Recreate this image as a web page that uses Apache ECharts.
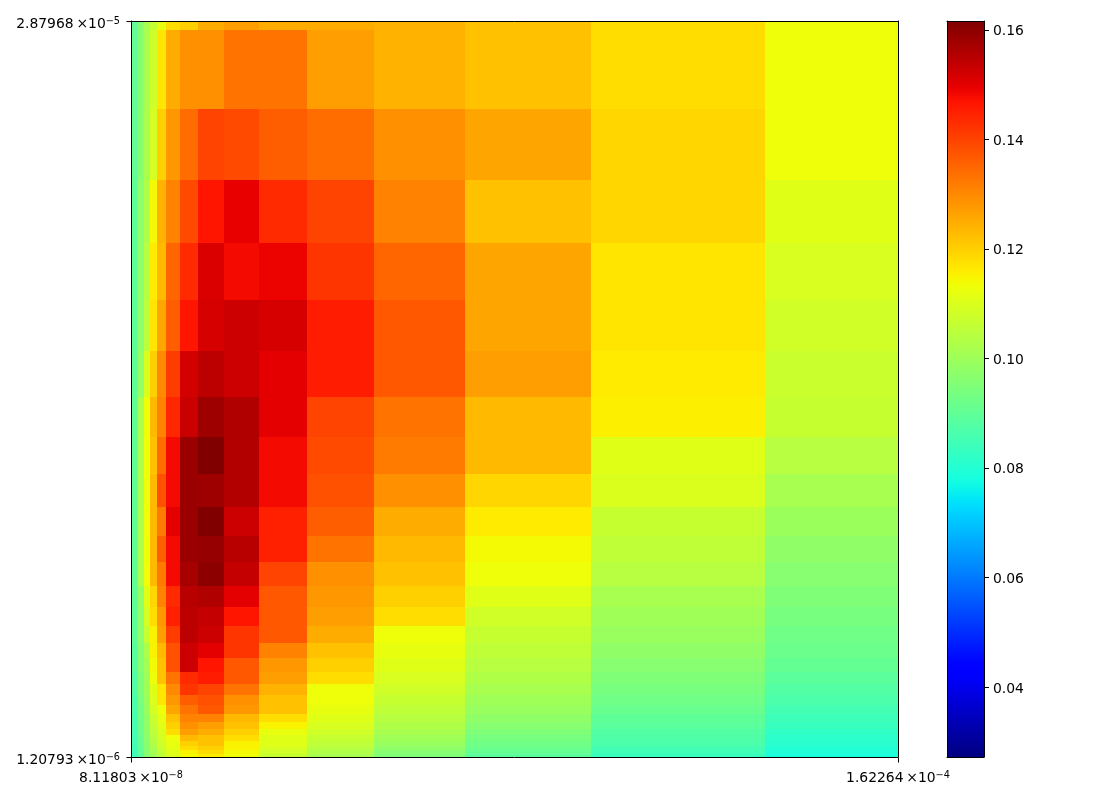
<!DOCTYPE html>
<html>
<head>
<meta charset="utf-8">
<title>heatmap</title>
<script src="https://cdn.jsdelivr.net/npm/echarts@6/dist/echarts.min.js"></script>
<style>
html,body{margin:0;padding:0;background:#fff;}
#main{width:1105px;height:797px;}
</style>
</head>
<body>
<div id="main"></div>
<script>
var xEdges = [8.11803e-8,8.70e-8,9.235e-8,9.80e-8,1.0504e-7,1.1484e-7,1.319e-7,1.577e-7,2.040e-7,2.886e-7,4.644e-7,9.02e-7,2.222e-6,7.745e-6,4.344e-5,1.62264e-4];
// bottom to top
var yEdges = [1.20793e-6,1.2235e-6,1.2449e-6,1.2665e-6,1.2940e-6,1.3280e-6,1.3628e-6,1.4045e-6,1.4537e-6,1.5112e-6,1.5778e-6,1.6544e-6,1.7423e-6,1.8505e-6,1.9741e-6,2.1244e-6,2.3055e-6,2.5238e-6,2.7990e-6,3.1305e-6,3.5471e-6,4.0890e-6,4.7958e-6,5.6978e-6,6.9465e-6,8.6541e-6,1.1063e-5,1.4513e-5,1.9708e-5,2.7702e-5,2.87968e-5];
// one row per y band, top row first
var gridValues = [
	[.090,.096,.1017,.1067,.112,.118,.120,.125,.127,.125,.125,.124,.122,.118,.113],
	[.090,.096,.1017,.108,.117,.125,.129,.129,.133,.133,.127,.124,.122,.118,.113],
	[.090,.096,.102,.109,.120,.128,.134,.140,.139,.136,.134,.129,.126,.119,.113],
	[.090,.097,.103,.114,.124,.131,.139,.1465,.1495,.1435,.140,.131,.122,.119,.1108],
	[.090,.097,.104,.116,.123,.135,.1435,.151,.148,.149,.142,.135,.126,.117,.1096],
	[.090,.097,.105,.117,.126,.136,.1465,.1515,.1527,.1515,.1455,.137,.126,.117,.1082],
	[.090,.098,.110,.120,.130,.141,.152,.1545,.1527,.150,.1455,.137,.127,.116,.1071],
	[.090,.102,.113,.123,.131,.144,.153,.158,.156,.150,.140,.133,.123,.1155,.1067],
	[.090,.102,.113,.122,.134,.148,.1586,.1616,.1557,.148,.139,.132,.123,.1108,.1042],
	[.090,.102,.113,.123,.138,.148,.1586,.158,.1557,.148,.138,.129,.119,.1101,.1017],
	[.090,.102,.113,.123,.132,.150,.1586,.1616,.1527,.145,.136,.125,.116,.1067,.0996],
	[.090,.102,.113,.123,.136,.148,.1586,.159,.155,.145,.133,.123,.114,.1054,.0977],
	[.090,.102,.113,.123,.132,.148,.157,.160,.1535,.140,.129,.122,.113,.1042,.0963],
	[.090,.098,.111,.119,.131,.1435,.155,.156,.150,.137,.128,.120,.1108,.1017,.095],
	[.090,.097,.109,.118,.128,.145,.1545,.1535,.1465,.137,.127,.118,.1082,.1004,.0938],
	[.090,.097,.107,.115,.127,.141,.1545,.1527,.142,.137,.125,.113,.1067,.0992,.0925],
	[.089,.096,.1025,.115,.123,.138,.1527,.150,.142,.131,.122,.112,.1054,.0977,.0917],
	[.089,.096,.101,.114,.122,.138,.1527,.1465,.137,.128,.120,.1108,.1042,.0963,.0905],
	[.088,.095,.100,.113,.122,.133,.1435,.1455,.137,.127,.118,.1096,.1029,.095,.0892],
	[.088,.095,.100,.111,.117,.130,.142,.140,.133,.124,.113,.1082,.1017,.0938,.0879],
	[.087,.094,.0995,.110,.117,.128,.136,.138,.129,.122,.113,.1067,.1004,.0925,.0867],
	[.087,.093,.099,.109,.113,.126,.133,.137,.128,.122,.112,.1054,.0992,.0913,.0854],
	[.086,.093,.098,.107,.112,.122,.131,.131,.123,.118,.1108,.1042,.0977,.0898,.0842],
	[.086,.092,.098,.106,.111,.120,.129,.127,.122,.115,.1096,.1029,.0963,.0892,.0834],
	[.0855,.092,.0975,.105,.110,.118,.127,.125,.120,.112,.1082,.1017,.095,.0879,.0821],
	[.085,.091,.097,.104,.109,.113,.123,.122,.118,.1108,.1067,.1004,.0938,.0871,.0813],
	[.085,.091,.0965,.103,.108,.112,.120,.122,.115,.1108,.1054,.0992,.0925,.0867,.0809],
	[.0845,.090,.096,.102,.107,.1115,.118,.120,.115,.1096,.1042,.0977,.0917,.0854,.080],
	[.0845,.090,.096,.101,.106,.111,.115,.118,.114,.1082,.1029,.0963,.0905,.0846,.0794],
	[.084,.0895,.0955,.1004,.105,.110,.114,.116,.113,.1067,.1017,.095,.0892,.0834,.0788]
];
var colorMin = 0.0272;
var colorMax = 0.1616;
var colorTicks = [0.04,0.06,0.08,0.10,0.12,0.14,0.16];
var xLabelValues = [8.11803e-8,1.62264e-4];
var yLabelValues = [1.20793e-6,2.87968e-5];
var xLabelTexts = ['8.11803\u2009×10','1.62264\u2009×10'];
var xLabelPowers = ['−8','−4'];
var yLabelTexts = ['1.20793\u2009×10','2.87968\u2009×10'];
var yLabelPowers = ['−6','−5'];

var fontName = 'DejaVu Sans';
var tickLength = 5;

function seg(points, t){
	for(var i = 1; i < points.length; i++){
		if(t <= points[i][0]){
			var a = points[i-1], b = points[i];
			return a[1] + (b[1]-a[1])*(t-a[0])/(b[0]-a[0]);
		}
	}
	return points[points.length-1][1];
}
function jet(t){
	var r = seg([[0,0],[.35,0],[.66,1],[.89,1],[1,.5]], t);
	var g = seg([[0,0],[.125,0],[.375,1],[.64,1],[.91,0],[1,0]], t);
	var b = seg([[0,.5],[.11,1],[.34,1],[.65,0],[1,0]], t);
	return 'rgb('+Math.round(r*255)+','+Math.round(g*255)+','+Math.round(b*255)+')';
}
var jetColors = [], jetStops = [];
for(var i = 0; i <= 100; i++){
	jetColors.push(jet(i/100));
	jetStops.push({offset:i/100, color:jet(i/100)});
}

var cells = [];
gridValues.forEach(function(row, r){
	var yi = gridValues.length - 1 - r;
	row.forEach(function(v, c){
		cells.push([xEdges[c], xEdges[c+1], yEdges[yi], yEdges[yi+1], v]);
	});
});

// end ticks of the log axes: [x, y, 0] hangs below the x axis, [x, y, 1] sticks out left of the y axis
var endTicks = [];
xLabelValues.forEach(function(x){ endTicks.push([x, yLabelValues[0], 0]); });
yLabelValues.forEach(function(y){ endTicks.push([xLabelValues[0], y, 1]); });

function renderCell(params, api){
	var p0 = api.coord([api.value(0), api.value(3)]);
	var p1 = api.coord([api.value(1), api.value(2)]);
	var x0 = Math.round(p0[0]), y0 = Math.round(p0[1]);
	return {
		type:'rect',
		shape:{x:x0, y:y0, width:Math.round(p1[0])-x0, height:Math.round(p1[1])-y0},
		style:{fill:api.visual('color')}
	};
}
function renderBar(params, api){
	var p0 = api.coord([0, api.value(1)]);
	var p1 = api.coord([1, api.value(0)]);
	return {
		type:'rect',
		shape:{x:p0[0], y:p0[1], width:p1[0]-p0[0], height:p1[1]-p0[1]},
		style:{fill:new echarts.graphic.LinearGradient(0,1,0,0,jetStops)}
	};
}
function renderTick(params, api){
	var p = api.coord([api.value(0), api.value(1)]);
	var px = Math.round(p[0])+0.5, py = Math.round(p[1])+0.5;
	var isLeft = api.value(2) == 1;
	return {
		type:'line',
		shape:{x1:px, y1:py, x2:isLeft ? px-tickLength : px, y2:isLeft ? py : py+tickLength},
		style:{stroke:'#000', lineWidth:1}
	};
}

function sciLabel(values, texts, powers){
	return function(v){
		var k = 0, best = Infinity;
		values.forEach(function(u, i){
			var d = Math.abs(Math.log(v/u));
			if(d < best){ best = d; k = i; }
		});
		return '{a|'+texts[k]+'}{s|'+powers[k]+'}';
	};
}
var sciRich = {
	a:{fontFamily:fontName, fontSize:13.9, color:'#000', lineHeight:20, verticalAlign:'bottom'},
	s:{fontFamily:fontName, fontSize:9.7, color:'#000', lineHeight:20, verticalAlign:'middle'}
};
var lineStyle = {show:true, onZero:false, lineStyle:{color:'#000', width:1}};
function frameAxis(type, gridIndex, position, min, max){
	return {type:type, gridIndex:gridIndex, position:position, min:min, max:max, z:10,
		axisLine:lineStyle, axisTick:{show:false}, axisLabel:{show:false}, splitLine:{show:false}};
}

var myChart = echarts.init(document.getElementById('main'));
var option = {
	animation:false,
	backgroundColor:'#fff',
	grid:[
		{left:131, top:21, width:767, height:736},
		{left:947, top:21, width:37, height:736}
	],
	visualMap:{show:false, type:'continuous', seriesIndex:0, dimension:4, min:colorMin, max:colorMax, inRange:{color:jetColors}},
	xAxis:[
		{type:'log', gridIndex:0, position:'bottom', min:xEdges[0], max:xEdges[xEdges.length-1], z:10,
			axisLine:lineStyle,
			axisTick:{show:false},
			axisLabel:{show:true, margin:8, customValues:xLabelValues, formatter:sciLabel(xLabelValues, xLabelTexts, xLabelPowers), rich:sciRich, hideOverlap:false, showMinLabel:true, showMaxLabel:true},
			splitLine:{show:false}, minorTick:{show:false}},
		frameAxis('log',0,'top',xEdges[0],xEdges[xEdges.length-1]),
		frameAxis('value',1,'bottom',0,1),
		frameAxis('value',1,'top',0,1)
	],
	yAxis:[
		{type:'log', gridIndex:0, position:'left', min:yEdges[0], max:yEdges[yEdges.length-1], z:10,
			axisLine:lineStyle,
			axisTick:{show:false},
			axisLabel:{show:true, margin:11, customValues:yLabelValues, formatter:sciLabel(yLabelValues, yLabelTexts, yLabelPowers), rich:sciRich, hideOverlap:false, showMinLabel:true, showMaxLabel:true},
			splitLine:{show:false}, minorTick:{show:false}},
		frameAxis('log',0,'right',yEdges[0],yEdges[yEdges.length-1]),
		frameAxis('value',1,'left',colorMin,colorMax),
		{type:'value', gridIndex:1, position:'right', min:colorMin, max:colorMax, z:10,
			axisLine:lineStyle,
			axisTick:{show:true, length:5, customValues:colorTicks, lineStyle:{color:'#000', width:1}},
			axisLabel:{show:true, margin:9, customValues:colorTicks, rich:{v:{color:'#000', fontFamily:fontName, fontSize:13.9, lineHeight:18, verticalAlign:'bottom'}}, formatter:function(v){return '{v|'+v.toFixed(2)+'}';}},
			splitLine:{show:false}}
	],
	series:[
		{type:'custom', xAxisIndex:0, yAxisIndex:0, renderItem:renderCell, data:cells, silent:true,
			encode:{x:[0,1], y:[2,3]}, dimensions:['x0','x1','y0','y1','v']},
		{type:'custom', xAxisIndex:2, yAxisIndex:2, renderItem:renderBar, data:[[colorMin,colorMax]], silent:true,
			encode:{y:[0,1]}},
		{type:'custom', xAxisIndex:0, yAxisIndex:0, renderItem:renderTick, data:endTicks, silent:true, z:20, clip:false,
			encode:{x:0, y:1}}
	]
};
myChart.setOption(option);
</script>
</body>
</html>
